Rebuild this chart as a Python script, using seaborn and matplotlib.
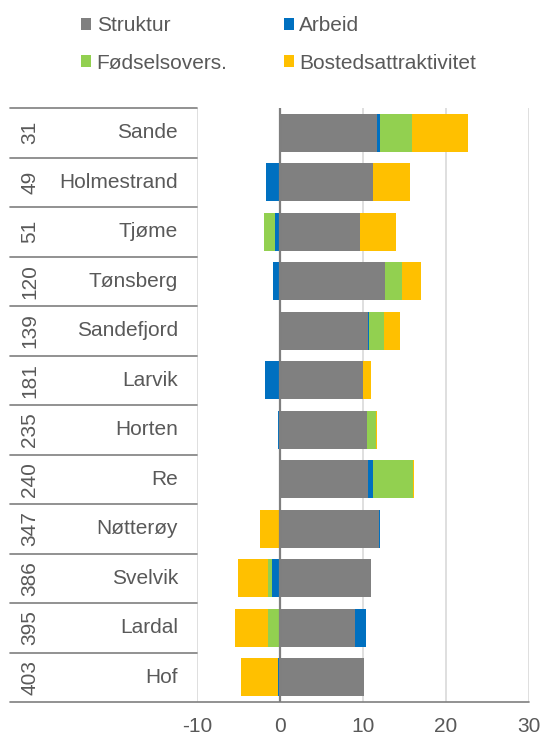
import matplotlib
matplotlib.use("Agg")
import matplotlib.pyplot as plt
import matplotlib.transforms as mtransforms
from matplotlib.lines import Line2D
from matplotlib.patches import Patch
import numpy as np
import seaborn as sns

# Data
kommuner = ["Sande", "Holmestrand", "Tjøme", "Tønsberg", "Sandefjord", "Larvik",
            "Horten", "Re", "Nøtterøy", "Svelvik", "Lardal", "Hof"]
rang = [31, 49, 51, 120, 139, 181, 235, 240, 347, 386, 395, 403]
struktur = [11.7, 11.15, 9.6, 12.7, 10.65, 9.95, 10.5, 10.65, 11.95, 11.0, 9.05, 10.1]
arbeid = [0.35, -1.7, -0.6, -0.8, 0.12, -1.75, -0.3, 0.5, 0.15, -1.0, 1.35, -0.28]
fodsel = [3.9, 0.1, -1.3, 2.0, 1.8, 0.05, 1.05, 4.85, 0.0, -0.4, -1.5, 0.04]
bosted = [6.7, 4.4, 4.35, 2.25, 1.9, 1.0, 0.15, 0.15, -2.45, -3.7, -3.9, -4.45]

serier = ["Struktur", "Arbeid", "Fødselsovers.", "Bostedsattraktivitet"]
farger = ["#808080", "#0070C0", "#92D050", "#FFC000"]
verdier = [struktur, arbeid, fodsel, bosted]

sns.set_style("white")
plt.rcParams["font.family"] = ["Liberation Sans", "DejaVu Sans"]
plt.rcParams["axes.unicode_minus"] = False
tekstfarge = "#595959"
fs = 15

fig = plt.figure(figsize=(5.43, 7.35), dpi=100)
ax = fig.add_axes([197 / 543, 1 - 702 / 735, (529 - 197) / 543, (702 - 108) / 735])

# Stablede søyler: tegn kumulative summer fra ytterst og innover
pos = [np.clip(np.array(v, float), 0, None) for v in verdier]
neg = [np.clip(np.array(v, float), None, 0) for v in verdier]
cum_pos = np.cumsum(pos, axis=0)
cum_neg = np.cumsum(neg, axis=0)

for cum in (cum_pos, cum_neg):
    for i in range(len(serier) - 1, -1, -1):
        sns.barplot(x=cum[i], y=kommuner, order=kommuner, orient="h", color=farger[i],
                    saturation=1, width=0.76, linewidth=0, errorbar=None, ax=ax, zorder=2)

ax.set_xlim(-10, 30)
ax.set_ylim(11.5, -0.5)
ax.set_xticks([-10, 0, 10, 20, 30])
ax.grid(axis="x", color="#d9d9d9", linewidth=1.2)
ax.set_axisbelow(True)
ax.axvline(0, color="#7f7f7f", linewidth=1.6, zorder=3)
for s in ax.spines.values():
    s.set_visible(False)
ax.set_ylabel("")
ax.set_xlabel("")
ax.tick_params(axis="y", left=False, labelleft=False)
ax.tick_params(axis="x", bottom=False, pad=7, labelsize=fs, labelcolor=tekstfarge)

# Kategoritabell til venstre
trans = mtransforms.blended_transform_factory(fig.transFigure, ax.transData)
for k in range(len(kommuner) + 1):
    y = k - 0.5
    x1 = 197 / 543 if k < len(kommuner) else 529 / 543
    ax.add_line(Line2D([10 / 543, x1], [y, y], transform=trans, color="#7f7f7f",
                       linewidth=1.2, clip_on=False))
for k, (navn, r) in enumerate(zip(kommuner, rang)):
    ax.text(178 / 543, k, navn, transform=trans, ha="right", va="center",
            fontsize=fs, color=tekstfarge)
    ax.text(30 / 543, k, str(r), transform=trans, ha="center", va="center",
            rotation=90, fontsize=fs, color=tekstfarge)

# Tegnforklaring
handles = [Patch(facecolor=c, edgecolor="none") for c in farger]
fig.legend([handles[0], handles[2], handles[1], handles[3]],
           [serier[0], serier[2], serier[1], serier[3]],
           ncol=2, loc="upper left", bbox_to_anchor=(81 / 543, 1 - 16 / 735),
           frameon=False, fontsize=fs, handlelength=0.5, handleheight=0.5,
           handletextpad=0.25, columnspacing=2.7, labelspacing=0.9,
           borderpad=0, borderaxespad=0, labelcolor=tekstfarge)

fig.savefig("out.png", dpi=100)
